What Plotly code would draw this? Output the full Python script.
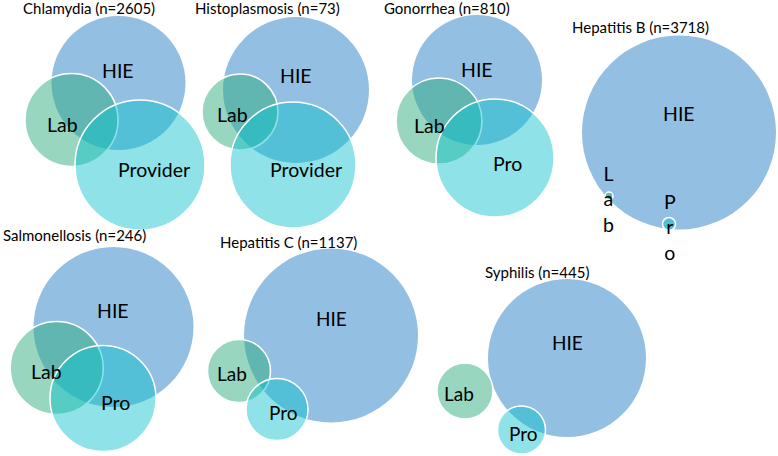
import plotly.graph_objects as go

# ---- data (pixel-space layout of each Venn panel) ----
panels = ["Chlamydia", "Histoplasmosis", "Gonorrhea", "Hepatitis B",
          "Salmonellosis", "Hepatitis C", "Syphilis"]
counts = [2605, 73, 810, 3718, 246, 1137, 445]
title_x = [21, 193, 382, 570, 1, 218, 483]
title_y = [8, 8, 8, 27, 235, 242, 272]

hie_cx = [118.5, 296, 477, 679, 113.5, 331, 567]
hie_cy = [83, 90, 80, 132.5, 327, 335.5, 358]
hie_r = [67, 73, 65, 97, 80, 87, 79]

lab_cx = [71.5, 240, 439, 609, 56.7, 239, 465]
lab_cy = [120, 112, 121, 196, 368, 371, 391]
lab_r = [46.5, 38, 43, 4, 46.5, 31.5, 28]

pro_cx = [140, 293, 495, 669, 103, 277, 521.5]
pro_cy = [165, 165, 158, 224, 398.5, 409.5, 430]
pro_r = [65, 63, 59, 6.5, 53, 31, 24]

pro_names = ["Provider", "Provider", "Pro", "P<br>r<br>o", "Pro", "Pro", "Pro"]
lab_names = ["Lab", "Lab", "Lab", "L<br>a<br>b", "Lab", "Lab", "Lab"]

hie_lx = [118, 296, 477, 679, 113, 331, 567]
hie_ly = [70, 75, 69, 113, 310, 318, 342]
lab_lx = [62, 232, 429, 608, 46, 232, 459]
lab_ly = [124, 114, 125, 199, 371, 373, 393]
pro_lx = [154, 306, 507, 670, 115, 283, 523]
pro_ly = [169, 169, 163, 227, 402, 412, 433]
label_size = [19.5, 19.5, 19.5, 19.5, 19.5, 19, 19]

HIE_COLOR = "rgb(147,191,226)"
LAB_COLOR = "rgba(49,173,129,0.5)"
PRO_COLOR = "rgba(6,193,204,0.45)"
FONT = "Lato, Open Sans, sans-serif"

fig = go.Figure()
# invisible trace to establish axes
fig.add_trace(go.Scatter(x=[0, 778], y=[0, 456], mode="markers",
                         marker=dict(opacity=0), hoverinfo="skip", showlegend=False))

shapes = []
def circ(cx, cy, r, color, line):
    return dict(type="circle", xref="x", yref="y", x0=cx - r, x1=cx + r,
                y0=cy - r, y1=cy + r, fillcolor=color, line=line, layer="above")

annos = []
for i in range(len(panels)):
    shapes.append(circ(hie_cx[i], hie_cy[i], hie_r[i], HIE_COLOR, dict(width=0)))
    shapes.append(circ(lab_cx[i], lab_cy[i], lab_r[i], LAB_COLOR, dict(color="white", width=1.5)))
    shapes.append(circ(pro_cx[i], pro_cy[i], pro_r[i], PRO_COLOR, dict(color="white", width=1.5)))
    annos.append(dict(x=title_x[i], y=title_y[i], xref="x", yref="y",
                      text=f"{panels[i]} (n={counts[i]})", showarrow=False,
                      xanchor="left", yanchor="middle",
                      font=dict(family=FONT, size=15, color="black")))
    for tx, lx, ly in (("HIE", hie_lx[i], hie_ly[i]),
                       (lab_names[i], lab_lx[i], lab_ly[i]),
                       (pro_names[i], pro_lx[i], pro_ly[i])):
        annos.append(dict(x=lx, y=ly, xref="x", yref="y", text=tx, showarrow=False,
                          xanchor="center", yanchor="middle",
                          font=dict(family=FONT, size=label_size[i], color="black")))

fig.update_layout(
    width=778, height=456, margin=dict(l=0, r=0, t=0, b=0),
    paper_bgcolor="white", plot_bgcolor="white",
    xaxis=dict(range=[0, 778], visible=False, fixedrange=True),
    yaxis=dict(range=[456, 0], visible=False, fixedrange=True),
    shapes=shapes, annotations=annos, showlegend=False,
)
fig.write_html("out.html", config={"displayModeBar": False},
               post_script="document.body.style.margin='0';document.body.style.overflow='hidden';")
